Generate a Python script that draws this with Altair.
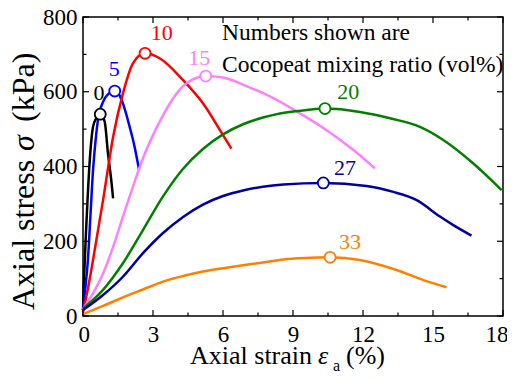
import altair as alt
import pandas as pd

FONT = "Liberation Serif"

series_names = ["0", "5", "10", "15", "20", "27", "33"]
series_colors = ["#000000", "#0000FF", "#FF0000", "#FF80FF", "#008000", "#00009C", "#FF8000"]

strain_0 = [0, 0.05, 0.14, 0.29, 0.43, 0.57, 0.74, 0.93, 1.07, 1.21, 1.29]
stress_0 = [15, 110, 239, 417, 506, 529, 540, 520, 435, 364, 315]

strain_5 = [0, 0.1, 0.21, 0.32, 0.43, 0.54, 0.64, 0.86, 1.1, 1.36, 1.55, 1.71, 2.0, 2.21, 2.4]
stress_5 = [16, 75, 150, 270, 390, 470, 524, 573, 595, 602, 592, 569, 506, 453, 392]

strain_10 = [0, 0.2, 0.43, 0.86, 1.29, 1.71, 2.14, 2.66, 3.3, 4.29, 5.14, 6.0, 6.36]
stress_10 = [10, 70, 150, 310, 479, 595, 676, 703, 689, 631, 569, 484, 448]

strain_15 = [0, 0.43, 0.86, 1.29, 1.71, 2.14, 2.57, 3.0, 3.43, 3.86, 4.29, 4.71, 5.26, 6.0,
             7.01, 8.16, 9.3, 10.44, 11.59, 12.51]
stress_15 = [18, 61, 114, 185, 266, 346, 422, 484, 537, 582, 615, 633, 642, 638,
             615, 583, 542, 497, 444, 395]

strain_20 = [0, 0.86, 1.71, 2.57, 3.43, 4.29, 5.14, 6.0, 6.86, 7.71, 8.44, 9.59, 10.37,
             11.87, 13.16, 14.44, 15.44, 16.73, 17.94]
stress_20 = [20, 70, 141, 230, 320, 394, 447, 486, 513, 531, 542, 551, 555,
             546, 529, 506, 471, 408, 337]

strain_27 = [0, 0.86, 1.71, 2.57, 3.43, 4.29, 5.14, 6.0, 6.86, 7.71, 8.59, 10.3, 12.15,
             13.3, 14.3, 15.3, 15.87, 16.65]
stress_27 = [16, 56, 105, 168, 222, 265, 298, 321, 336, 346, 352, 356, 348,
             332, 310, 266, 243, 215]

strain_33 = [0, 0.86, 1.71, 2.57, 3.43, 4.29, 5.14, 6.0, 6.86, 7.71, 8.59, 9.5, 10.59,
             11.87, 13.44, 14.59, 15.58]
stress_33 = [5, 27, 50, 71, 92, 107, 119, 128, 136, 143, 151, 155, 157,
             150, 123, 96, 77]

peak_strain = [0.74, 1.36, 2.66, 5.26, 10.37, 10.3, 10.59]
peak_stress = [540, 602, 703, 642, 555, 356, 157]

label_strain = [0.69, 1.34, 3.37, 4.98, 11.37, 11.23, 11.44]
label_stress = [596, 662, 756, 689, 600, 395, 199]

note_lines = ["Numbers shown are", "Cocopeat mixing ratio (vol%)"]
note_strain = [5.96, 5.96]
note_stress = [757, 671]

x_major = [0, 3, 6, 9, 12, 15, 18]
x_minor = [1.5, 4.5, 7.5, 10.5, 13.5, 16.5]
y_major = [0, 200, 400, 600, 800]
y_minor = [100, 300, 500, 700]

W, H = 420, 299

curves = [
    (strain_0, stress_0), (strain_5, stress_5), (strain_10, stress_10),
    (strain_15, stress_15), (strain_20, stress_20), (strain_27, stress_27),
    (strain_33, stress_33),
]
rows = []
for name, (xs, ys) in zip(series_names, curves):
    for i, (xv, yv) in enumerate(zip(xs, ys)):
        rows.append({"series": name, "strain": xv, "stress": yv, "order": i})
df_lines = pd.DataFrame(rows)
df_peaks = pd.DataFrame({"series": series_names, "strain": peak_strain, "stress": peak_stress})
df_labels = pd.DataFrame({"series": series_names, "strain": label_strain, "stress": label_stress})
df_note = pd.DataFrame({"text": note_lines, "strain": note_strain, "stress": note_stress})

xscale = alt.Scale(domain=[0, 18], nice=False, zero=False)
yscale = alt.Scale(domain=[0, 800], nice=False, zero=False)
color = alt.Color("series:N", scale=alt.Scale(domain=series_names, range=series_colors), legend=None)

xaxis = alt.Axis(values=x_major, title=None, grid=False, ticks=False, domain=False,
                 labelFont=FONT, labelFontSize=23, labelColor="black", labelPadding=7,
                 labelFlush=True, labelFlushOffset=5, labelOverlap=False)
yaxis = alt.Axis(values=y_major, title=None, grid=False, ticks=False, domain=False,
                 labelFont=FONT, labelFontSize=23, labelColor="black", labelPadding=6,
                 labelOverlap=False)

lines = alt.Chart(df_lines).mark_line(strokeWidth=2.5, interpolate="monotone").encode(
    x=alt.X("strain:Q", scale=xscale, axis=xaxis),
    y=alt.Y("stress:Q", scale=yscale, axis=yaxis),
    color=color,
    order="order:Q",
    detail="series:N",
)

peaks = alt.Chart(df_peaks).mark_point(shape="circle", filled=True, fill="white", size=120,
                                       strokeWidth=1.8, opacity=1).encode(
    x=alt.X("strain:Q", scale=xscale),
    y=alt.Y("stress:Q", scale=yscale),
    stroke=alt.Stroke("series:N", scale=alt.Scale(domain=series_names, range=series_colors), legend=None),
)

labels = alt.Chart(df_labels).mark_text(font=FONT, fontSize=22, align="center", baseline="middle").encode(
    x=alt.X("strain:Q", scale=xscale),
    y=alt.Y("stress:Q", scale=yscale),
    text="series:N",
    color=color,
)

note = alt.Chart(df_note).mark_text(font=FONT, fontSize=23.5, align="left", baseline="middle",
                                    color="black").encode(
    x=alt.X("strain:Q", scale=xscale),
    y=alt.Y("stress:Q", scale=yscale),
    text="text:N",
)

def xticks(vals, length):
    d = pd.DataFrame({"t": vals})
    bot = alt.Chart(d).mark_rule(color="black", strokeWidth=1.2).encode(
        x=alt.X("t:Q", scale=xscale), y=alt.value(H), y2=alt.value(H - length))
    top = alt.Chart(d).mark_rule(color="black", strokeWidth=1.2).encode(
        x=alt.X("t:Q", scale=xscale), y=alt.value(0), y2=alt.value(length))
    return [bot, top]

def yticks(vals, length):
    d = pd.DataFrame({"t": vals})
    left = alt.Chart(d).mark_rule(color="black", strokeWidth=1.2).encode(
        y=alt.Y("t:Q", scale=yscale), x=alt.value(0), x2=alt.value(length))
    right = alt.Chart(d).mark_rule(color="black", strokeWidth=1.2).encode(
        y=alt.Y("t:Q", scale=yscale), x=alt.value(W), x2=alt.value(W - length))
    return [left, right]

tick_layers = xticks(x_major, 6) + xticks(x_minor, 3.5) + yticks(y_major, 6) + yticks(y_minor, 3.5)

one = pd.DataFrame({"k": [0]})

def title_piece(text, x, y, size, italic=False, angle=0):
    kw = dict(font=FONT, fontSize=size, align="left", baseline="alphabetic", color="black",
              text=text, angle=angle)
    if italic:
        kw["fontStyle"] = "italic"
    return alt.Chart(one).mark_text(**kw).encode(x=alt.value(x), y=alt.value(y))

title_layers = [
    title_piece("Axial strain", 107, 347, 26),
    title_piece("\u03b5", 235, 347, 26, italic=True),
    title_piece("a", 250, 354, 16),
    title_piece("(%)", 263, 347, 26),
    title_piece("Axial stress", -49, 293, 32, angle=270),
    title_piece("\u03c3", -49, 134, 32, italic=True, angle=270),
    title_piece("(kPa)", -49, 105, 32, angle=270),
]

chart = alt.layer(
    lines, *tick_layers, peaks, labels, note, *title_layers
).properties(
    width=W, height=H,
    autosize=alt.AutoSizeParams(type="none"),
    padding={"left": 75, "top": 9, "right": 4, "bottom": 55},
).configure(font=FONT).configure_view(stroke="black", strokeWidth=1.5)

chart.save("out.html", embed_options={"renderer": "svg", "actions": False})
